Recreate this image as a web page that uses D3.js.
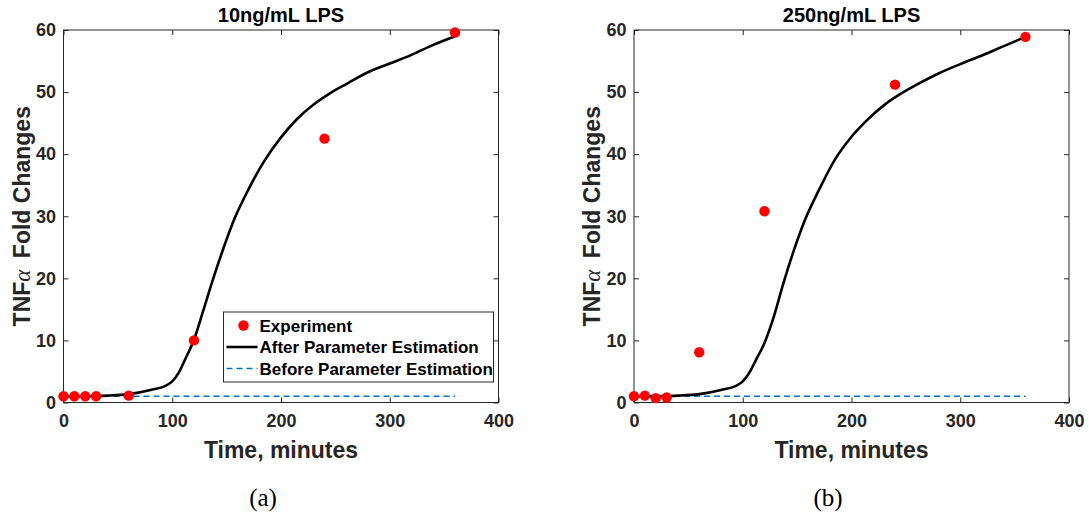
<!DOCTYPE html>
<html><head><meta charset="utf-8">
<script src="https://cdn.jsdelivr.net/npm/d3@7"></script>
<style>body{margin:0;background:#fff}svg{display:block}</style>
</head><body><svg id="c" width="1089" height="514"></svg>
<script>
// ---------------- data ----------------
const xTicks = [0, 100, 200, 300, 400];
const yTicks = [0, 10, 20, 30, 40, 50, 60];
const titles = ["10ng/mL LPS", "250ng/mL LPS"];
const captions = ["(a)", "(b)"];
const legendLabels = ["Experiment", "After Parameter Estimation", "Before Parameter Estimation"];

const expTime = [0, 10, 20, 30, 60, 120, 240, 360];
const expA = [1.0, 1.0, 1.0, 1.0, 1.1, 10.0, 42.5, 59.6];
const expB = [1.0, 1.1, 0.7, 0.8, 8.1, 30.8, 51.2, 58.9];

const fitTime = [0, 20, 40, 60, 80, 96, 100, 106, 112, 120, 128, 137, 147, 157, 170, 185, 200, 215, 230, 245, 260, 280, 300, 320, 340, 360];
const fitA = [0.95, 1.0, 1.1, 1.35, 2.0, 2.9, 3.4, 4.8, 7.0, 10.1, 14.5, 19.6, 24.8, 29.5, 34.3, 39.0, 42.7, 45.7, 48.0, 49.8, 51.3, 53.2, 54.6, 56.0, 57.6, 59.0];
const fitB = [0.95, 1.0, 1.1, 1.35, 2.0, 2.9, 3.4, 4.8, 6.8, 9.6, 13.5, 19.0, 24.5, 29.3, 34.2, 39.2, 42.8, 45.6, 47.9, 49.7, 51.2, 53.0, 54.5, 55.9, 57.4, 58.9];

const beforeTime = [0, 360];
const beforeA = [1.0, 1.0];
const beforeB = [1.0, 1.0];

// ---------------- drawing ----------------
const svg = d3.select("#c");
const FONT = "'Liberation Sans', Arial, Helvetica, sans-serif";
const AX = "#262626";

const panels = [
  {left: 63.5, title: titles[0], cap: captions[0], capX: 263, exp: expA, fit: fitA, before: beforeA, legend: true},
  {left: 634, title: titles[1], cap: captions[1], capX: 828, exp: expB, fit: fitB, before: beforeB, legend: false}
];
const PW = 435, TOP = 30, BOT = 402.5;

panels.forEach(p => {
  const x = d3.scaleLinear().domain([0, 400]).range([p.left, p.left + PW]);
  const y = d3.scaleLinear().domain([0, 60]).range([BOT, TOP]);
  const g = svg.append("g");

  g.append("rect").attr("x", p.left).attr("y", TOP).attr("width", PW).attr("height", BOT - TOP)
    .attr("fill", "#fff");

  const xb = g.append("g").attr("transform", `translate(0,${BOT})`)
    .call(d3.axisBottom(x).tickValues(xTicks).tickSizeInner(-5).tickSizeOuter(0).tickPadding(12));
  const xt = g.append("g").attr("transform", `translate(0,${TOP})`)
    .call(d3.axisTop(x).tickValues(xTicks).tickSizeInner(-5).tickSizeOuter(0).tickFormat(""));
  const yl = g.append("g").attr("transform", `translate(${p.left},0)`)
    .call(d3.axisLeft(y).tickValues(yTicks).tickSizeInner(-5).tickSizeOuter(0).tickPadding(7.5));
  const yr = g.append("g").attr("transform", `translate(${p.left + PW},0)`)
    .call(d3.axisRight(y).tickValues(yTicks).tickSizeInner(-5).tickSizeOuter(0).tickFormat(""));

  [xb, xt, yl, yr].forEach(a => {
    a.select(".domain").remove();
    a.selectAll(".tick line").attr("stroke", AX).attr("stroke-width", 1);
    a.selectAll(".tick text").attr("fill", AX).style("font-family", FONT)
      .style("font-size", "18px").style("font-weight", "bold");
  });

  g.append("rect").attr("x", p.left).attr("y", TOP).attr("width", PW).attr("height", BOT - TOP)
    .attr("fill", "none").attr("stroke", AX).attr("stroke-width", 1);

  const beforeData = beforeTime.map((t, i) => [t, p.before[i]]);
  g.append("path").datum(beforeData)
    .attr("d", d3.line().x(d => x(d[0])).y(d => y(d[1])))
    .attr("fill", "none").attr("stroke", "#0072BD").attr("stroke-width", 1.6)
    .attr("stroke-dasharray", "6,4");

  const fitData = fitTime.map((t, i) => [t, p.fit[i]]);
  g.append("path").datum(fitData)
    .attr("d", d3.line().x(d => x(d[0])).y(d => y(d[1])).curve(d3.curveMonotoneX))
    .attr("fill", "none").attr("stroke", "#000").attr("stroke-width", 2.6)
    .attr("stroke-linejoin", "round");

  const expData = expTime.map((t, i) => [t, p.exp[i]]);
  g.selectAll("circle.exp").data(expData).enter().append("circle")
    .attr("class", "exp").attr("cx", d => x(d[0])).attr("cy", d => y(d[1])).attr("r", 5.2)
    .attr("fill", "#FF0000");

  g.append("text").attr("x", p.left + PW / 2).attr("y", 22).attr("text-anchor", "middle")
    .style("font-family", FONT).style("font-size", "20px").style("font-weight", "bold")
    .attr("fill", "#000").text(p.title);

  g.append("text").attr("x", p.left + PW / 2).attr("y", 458).attr("text-anchor", "middle")
    .style("font-family", FONT).style("font-size", "23px").style("font-weight", "bold")
    .attr("fill", AX).text("Time, minutes");

  const yt = g.append("text").attr("transform", `translate(${p.left - 34},${(TOP + BOT) / 2}) rotate(-90)`)
    .attr("text-anchor", "middle")
    .style("font-family", FONT).style("font-size", "23px").style("font-weight", "bold")
    .attr("fill", AX);
  yt.append("tspan").text("TNF");
  yt.append("tspan").style("font-family", "'Liberation Serif', 'DejaVu Serif', serif")
    .style("font-style", "italic").style("font-weight", "normal").text("\u03B1");
  yt.append("tspan").text("\u2002Fold Changes");

  g.append("text").attr("x", p.capX).attr("y", 506).attr("text-anchor", "middle")
    .style("font-family", "'Liberation Serif', 'Times New Roman', serif").style("font-size", "25px")
    .attr("fill", "#000").text(p.cap);

  if (p.legend) {
    const lx1 = p.left + PW - 5, lx0 = lx1 - 270, ly1 = BOT - 20.5, ly0 = ly1 - 70;
    const lg = g.append("g");
    lg.append("rect").attr("x", lx0).attr("y", ly0).attr("width", lx1 - lx0).attr("height", ly1 - ly0)
      .attr("fill", "#fff").attr("stroke", AX).attr("stroke-width", 1);
    const rows = [ly0 + 13.5, ly0 + 35, ly0 + 56.5];
    lg.append("circle").attr("cx", lx0 + 20).attr("cy", rows[0]).attr("r", 5.2).attr("fill", "#FF0000");
    lg.append("line").attr("x1", lx0 + 3).attr("x2", lx0 + 34).attr("y1", rows[1]).attr("y2", rows[1])
      .attr("stroke", "#000").attr("stroke-width", 2.6);
    lg.append("line").attr("x1", lx0 + 3).attr("x2", lx0 + 34).attr("y1", rows[2]).attr("y2", rows[2])
      .attr("stroke", "#0072BD").attr("stroke-width", 1.6).attr("stroke-dasharray", "6,4");
    legendLabels.forEach((t, i) => {
      lg.append("text").attr("x", lx0 + 36).attr("y", rows[i]).attr("dy", "0.36em")
        .style("font-family", FONT).style("font-size", "17px").style("font-weight", "bold")
        .attr("fill", "#000").text(t);
    });
  }
});
</script>
</body></html>
